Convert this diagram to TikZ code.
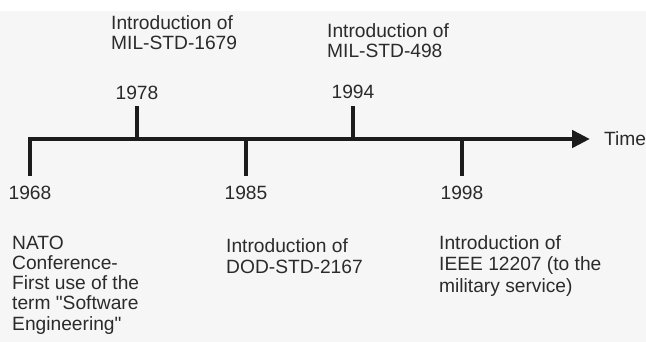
\documentclass[tikz,border=0pt]{standalone}
\usepackage{fontspec}
\setmainfont{Liberation Sans}
\usetikzlibrary{arrows.meta,positioning}
\definecolor{ink}{HTML}{1C1C1C}
\definecolor{txt}{HTML}{2B2B2B}
\definecolor{paper}{HTML}{F6F6F6}
\newcommand{\Lbl}{\fontsize{19.2}{20.2}\selectfont}

\begin{document}
\begin{tikzpicture}[x=1pt,y=-1pt, font=\Lbl,
    axisline/.style={ink,line width=4.5pt,line cap=rect,-{Triangle[length=18pt,width=17pt]}},
    tickline/.style={ink,line width=4pt},
    yearlbl/.style={text=txt,anchor=base,inner sep=0pt},
    desclbl/.style={text=txt,anchor=base west,inner sep=0pt,align=left}]
  \fill[white] (0,0) rectangle (646,342);
  \fill[paper] (0,11) rectangle (646,342);
  \useasboundingbox (0,0) rectangle (646,342);
  % axis
  \coordinate (a1968) at (30,139);
  \coordinate (tip) at (590,139);
  \draw[axisline] (a1968) -- (tip);
  \node[text=txt,anchor=west,inner sep=0pt] (time) at (604,139) {Time};
  % ticks: x / year / tick end / label baseline
  \foreach \x/\yr/\e/\b in {30/1968/176/200, 137/1978/106/100, 246/1985/176/200, 353/1994/106/99, 462/1998/176/200}{
    \coordinate (a\yr) at (\x,139);
    \coordinate (e\yr) at (\x,\e);
    \draw[tickline] (a\yr) -- (e\yr);
    \node[yearlbl] (y\yr) at (\x,\b) {\yr};}
  % EVENTS (anchored at the baseline of the last line)
  \node[desclbl] (d1978) at (111,50) {Introduction of\\MIL-STD-1679};
  \node[desclbl] (d1994) at (327,58) {Introduction of\\MIL-STD-498};
  \node[desclbl] (d1968) at (12,330) {NATO\\Conference-\\First use of the\\term \textquotedbl Software\\Engineering\textquotedbl};
  \node[desclbl] (d1985) at (226,273) {Introduction of\\DOD-STD-2167};
  \node[desclbl,font=\fontsize{19.2}{21.5}\selectfont] (d1998) at (439,292) {Introduction of\\IEEE 12207 (to the\\military service)};
\end{tikzpicture}
\end{document}
